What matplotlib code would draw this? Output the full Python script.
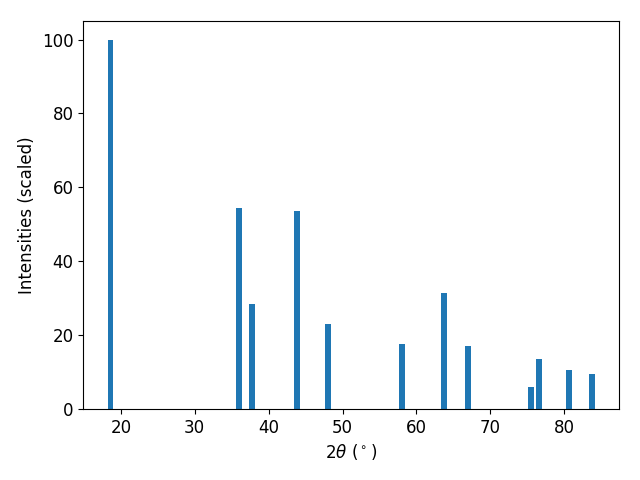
import matplotlib
matplotlib.use("Agg")
import matplotlib.pyplot as plt

# положения пиков и интенсивности
two_theta = [18.6, 36.0, 37.8, 43.8, 48.0, 58.0, 63.7, 67.0, 75.5, 76.6, 80.7, 83.7]
intens = [100.0, 54.3, 28.5, 53.5, 23.1, 17.6, 31.5, 17.1, 6.0, 13.6, 10.6, 9.5]

plt.rcParams['font.size'] = 12
fig, ax = plt.subplots(figsize=(6.4, 4.8), dpi=100)
ax.bar(two_theta, intens, width=0.8)
ax.set_xlabel(r'$2\theta$ ($^\circ$)')
ax.set_ylabel('Intensities (scaled)')
fig.subplots_adjust(left=0.13, right=0.967, top=0.956, bottom=0.148)
fig.savefig('out.png')
